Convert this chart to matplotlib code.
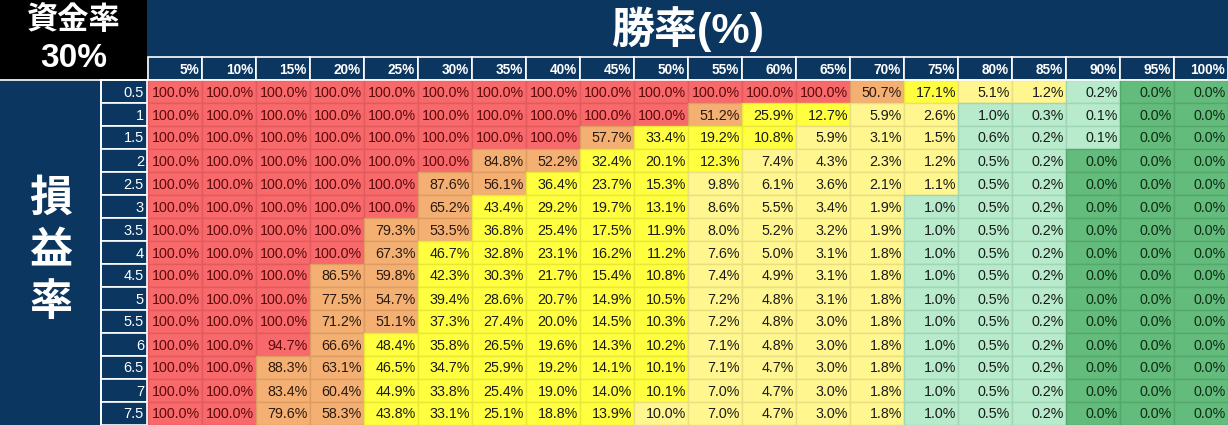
import matplotlib.pyplot as plt
from matplotlib.patches import Rectangle

# --- data ---
win_rates = ['5%', '10%', '15%', '20%', '25%', '30%', '35%', '40%', '45%', '50%',
             '55%', '60%', '65%', '70%', '75%', '80%', '85%', '90%', '95%', '100%']
pl_ratios = ['0.5', '1', '1.5', '2', '2.5', '3', '3.5', '4', '4.5', '5',
             '5.5', '6', '6.5', '7', '7.5']
ruin = [
    [100, 100, 100, 100, 100, 100, 100, 100, 100, 100, 100, 100, 100, 50.7, 17.1, 5.1, 1.2, 0.2, 0.0, 0.0],
    [100, 100, 100, 100, 100, 100, 100, 100, 100, 100, 51.2, 25.9, 12.7, 5.9, 2.6, 1.0, 0.3, 0.1, 0.0, 0.0],
    [100, 100, 100, 100, 100, 100, 100, 100, 57.7, 33.4, 19.2, 10.8, 5.9, 3.1, 1.5, 0.6, 0.2, 0.1, 0.0, 0.0],
    [100, 100, 100, 100, 100, 100, 84.8, 52.2, 32.4, 20.1, 12.3, 7.4, 4.3, 2.3, 1.2, 0.5, 0.2, 0.0, 0.0, 0.0],
    [100, 100, 100, 100, 100, 87.6, 56.1, 36.4, 23.7, 15.3, 9.8, 6.1, 3.6, 2.1, 1.1, 0.5, 0.2, 0.0, 0.0, 0.0],
    [100, 100, 100, 100, 100, 65.2, 43.4, 29.2, 19.7, 13.1, 8.6, 5.5, 3.4, 1.9, 1.0, 0.5, 0.2, 0.0, 0.0, 0.0],
    [100, 100, 100, 100, 79.3, 53.5, 36.8, 25.4, 17.5, 11.9, 8.0, 5.2, 3.2, 1.9, 1.0, 0.5, 0.2, 0.0, 0.0, 0.0],
    [100, 100, 100, 100, 67.3, 46.7, 32.8, 23.1, 16.2, 11.2, 7.6, 5.0, 3.1, 1.8, 1.0, 0.5, 0.2, 0.0, 0.0, 0.0],
    [100, 100, 100, 86.5, 59.8, 42.3, 30.3, 21.7, 15.4, 10.8, 7.4, 4.9, 3.1, 1.8, 1.0, 0.5, 0.2, 0.0, 0.0, 0.0],
    [100, 100, 100, 77.5, 54.7, 39.4, 28.6, 20.7, 14.9, 10.5, 7.2, 4.8, 3.1, 1.8, 1.0, 0.5, 0.2, 0.0, 0.0, 0.0],
    [100, 100, 100, 71.2, 51.1, 37.3, 27.4, 20.0, 14.5, 10.3, 7.2, 4.8, 3.0, 1.8, 1.0, 0.5, 0.2, 0.0, 0.0, 0.0],
    [100, 100, 94.7, 66.6, 48.4, 35.8, 26.5, 19.6, 14.3, 10.2, 7.1, 4.8, 3.0, 1.8, 1.0, 0.5, 0.2, 0.0, 0.0, 0.0],
    [100, 100, 88.3, 63.1, 46.5, 34.7, 25.9, 19.2, 14.1, 10.1, 7.1, 4.7, 3.0, 1.8, 1.0, 0.5, 0.2, 0.0, 0.0, 0.0],
    [100, 100, 83.4, 60.4, 44.9, 33.8, 25.4, 19.0, 14.0, 10.1, 7.0, 4.7, 3.0, 1.8, 1.0, 0.5, 0.2, 0.0, 0.0, 0.0],
    [100, 100, 79.6, 58.3, 43.8, 33.1, 25.1, 18.8, 13.9, 10.0, 7.0, 4.7, 3.0, 1.8, 1.0, 0.5, 0.2, 0.0, 0.0, 0.0],
]
capital_label = '資金率'
capital_value = '30%'
col_title = '勝率(%)'
row_title = '損益率'

# --- style ---
NAVY = '#0B3660'
# (lower bound, face, edge, text)
bands = [
    (90.0, '#F8696B', '#E25A5D', '#5C0A0A'),
    (50.0, '#F4B073', '#DE9C62', '#2A1A10'),
    (10.05, '#FFFF3F', '#E8E838', '#1A1A1A'),
    (1.05, '#FFF68F', '#EADF80', '#1A1A1A'),
    (0.05, '#B8EBCC', '#A0D6B6', '#1A1A1A'),
    (-1.0, '#63BC7B', '#55A86C', '#102A16'),
]


def band(v):
    for lo, fc, ec, tc in bands:
        if v >= lo:
            return fc, ec, tc


W, H = 1228, 425
left, top = 148, 80        # data block origin (px)
cw, rh = 54, 23            # cell size (px)
lab_x = 101                # row-label column start

fig = plt.figure(figsize=(W / 100, H / 100), dpi=100)
ax = fig.add_axes([0, 0, 1, 1])
ax.set_xlim(0, W)
ax.set_ylim(H, 0)
ax.axis('off')

sans = ['Liberation Sans', 'Noto Sans CJK JP']
cjk = ['Noto Sans CJK JP', 'Liberation Sans']

# header backgrounds
ax.add_patch(Rectangle((0, 0), W, top, fc=NAVY, ec='none'))
ax.add_patch(Rectangle((0, top), lab_x, H - top, fc=NAVY, ec='none'))
ax.add_patch(Rectangle((0, 0), left - 1, top - 1, fc='black', ec='none'))

# corner text
ax.text((left - 1) / 2, 20, capital_label, color='white', fontsize=22.5, fontweight='bold',
        family=cjk, ha='center', va='center')
ax.text((left - 1) / 2, 58, capital_value, color='white', fontsize=24, fontweight='bold',
        family=sans, ha='center', va='center')

# column title
ax.text(left + len(win_rates) * cw / 2, 29, col_title, color='white', fontsize=31,
        fontweight='bold', family=sans, ha='center', va='center')

# row title (vertical)
for k, ch in enumerate(row_title):
    ax.text(lab_x / 2, 198 + k * 52, ch, color='white', fontsize=31, fontweight='bold',
            family=cjk, ha='center', va='center')

# column header cells
hy = 57
for j, lab in enumerate(win_rates):
    x0 = left + j * cw
    ax.add_patch(Rectangle((x0, hy), cw, top - hy, fc=NAVY, ec='white', lw=1.2))
    ax.text(x0 + cw - 3, (hy + top) / 2 + 1, lab, color='white', fontsize=9.8,
            fontweight='bold', family=sans, ha='right', va='center')

# row label cells
for i, lab in enumerate(pl_ratios):
    y0 = top + i * rh
    ax.add_patch(Rectangle((lab_x, y0), left - lab_x - 1, rh, fc=NAVY, ec='white', lw=1.2))
    ax.text(left - 4, y0 + rh / 2 + 1, lab, color='white', fontsize=10.5,
            family=sans, ha='right', va='center')
ax.plot([lab_x - 0.5, lab_x - 0.5], [top, H], color='white', lw=1.2)
ax.plot([0, W], [top - 0.5, top - 0.5], color='white', lw=1.2)

# data cells
for i, row in enumerate(ruin):
    for j, v in enumerate(row):
        fc, ec, tc = band(v)
        x0 = left + j * cw
        y0 = top + i * rh
        ax.add_patch(Rectangle((x0, y0), cw, rh, fc=fc, ec=ec, lw=1.0))
        ax.text(x0 + cw - 2, y0 + rh / 2 + 1, f'{v:.1f}%', color=tc, fontsize=10.3,
                family=sans, ha='right', va='center')

fig.savefig('out.png', dpi=100)
